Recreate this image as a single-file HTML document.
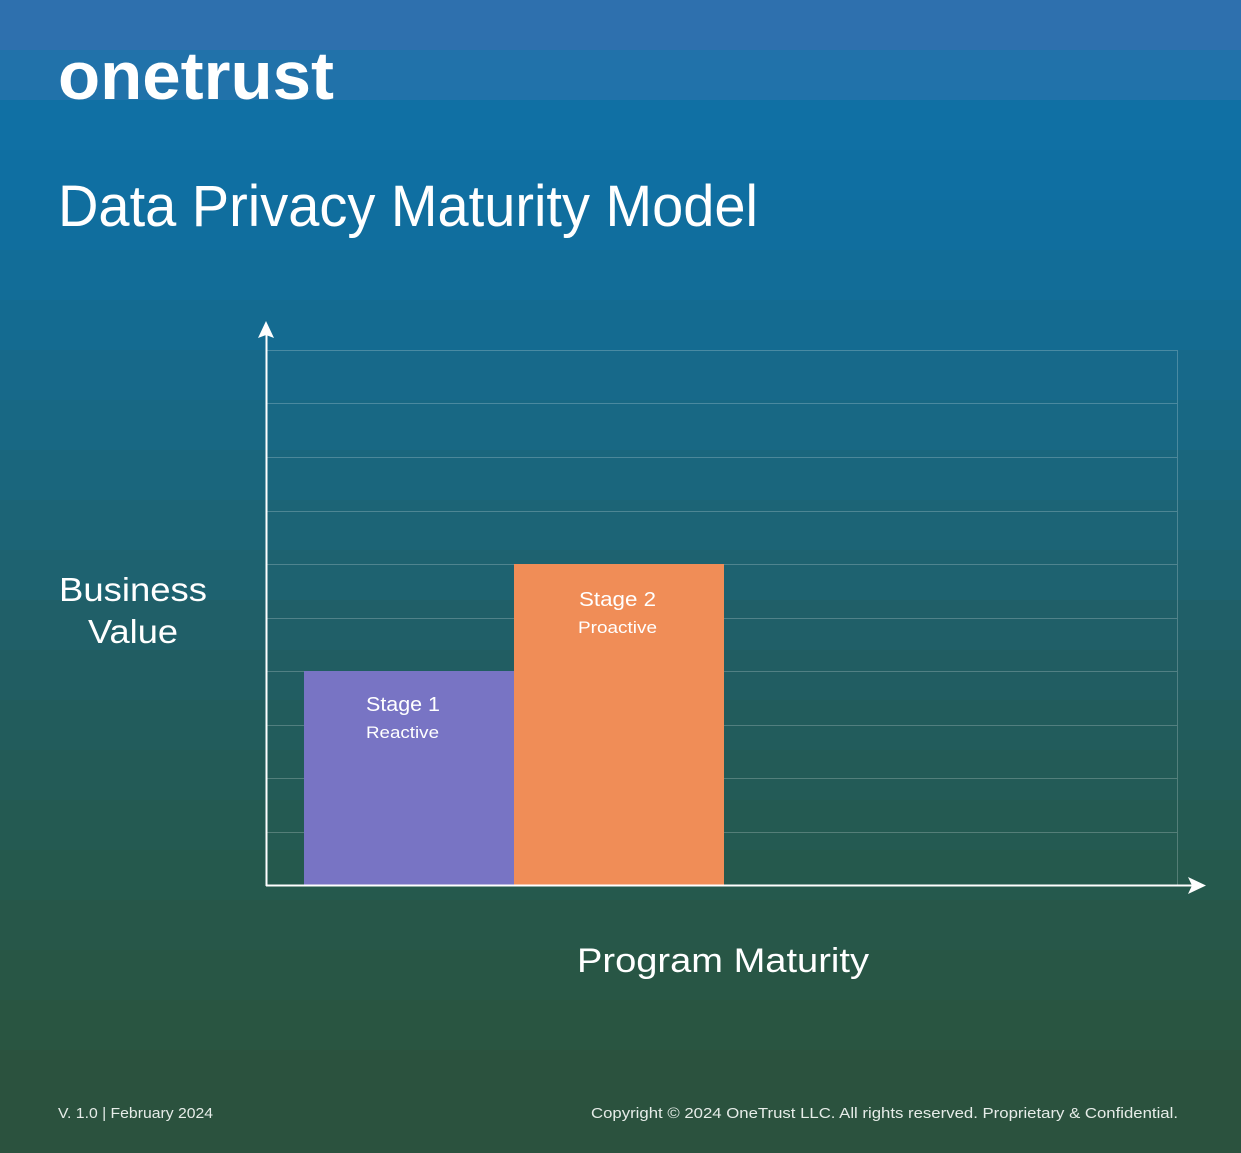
<!DOCTYPE html>
<html><head><meta charset="utf-8"><style>html,body{margin:0;padding:0;overflow:hidden}svg{display:block}</style></head>
<body>
<svg width="1241" height="1153" viewBox="0 0 1241 1153" xmlns="http://www.w3.org/2000/svg" font-family="Liberation Sans, sans-serif">
<g>
<rect x="0" y="0" width="1241" height="50" fill="#2e70ae"/>
<rect x="0" y="50" width="1241" height="50" fill="#2172aa"/>
<rect x="0" y="100" width="1241" height="50" fill="#1070a4"/>
<rect x="0" y="150" width="1241" height="50" fill="#0f6fa2"/>
<rect x="0" y="200" width="1241" height="50" fill="#106e9e"/>
<rect x="0" y="250" width="1241" height="50" fill="#126d98"/>
<rect x="0" y="300" width="1241" height="50" fill="#146b91"/>
<rect x="0" y="350" width="1241" height="50" fill="#17698a"/>
<rect x="0" y="400" width="1241" height="50" fill="#186884"/>
<rect x="0" y="450" width="1241" height="50" fill="#1a667d"/>
<rect x="0" y="500" width="1241" height="50" fill="#1c6476"/>
<rect x="0" y="550" width="1241" height="50" fill="#1e6270"/>
<rect x="0" y="600" width="1241" height="50" fill="#205f68"/>
<rect x="0" y="650" width="1241" height="50" fill="#215d62"/>
<rect x="0" y="700" width="1241" height="50" fill="#225c5c"/>
<rect x="0" y="750" width="1241" height="50" fill="#235b57"/>
<rect x="0" y="800" width="1241" height="50" fill="#245a52"/>
<rect x="0" y="850" width="1241" height="50" fill="#25594d"/>
<rect x="0" y="900" width="1241" height="50" fill="#275749"/>
<rect x="0" y="950" width="1241" height="50" fill="#285645"/>
<rect x="0" y="1000" width="1241" height="50" fill="#295541"/>
<rect x="0" y="1050" width="1241" height="103" fill="#2b523e"/>
</g>
<text x="58" y="99" font-size="68" font-weight="bold" fill="#fff" textLength="276" lengthAdjust="spacingAndGlyphs">onetrust</text>
<text x="58" y="226" font-size="58" fill="#fff" textLength="700" lengthAdjust="spacingAndGlyphs">Data Privacy Maturity Model</text>
<g stroke="#ffffff" stroke-opacity="0.22" stroke-width="1">
<line x1="266" y1="350.5" x2="1177" y2="350.5"/>
<line x1="266" y1="403.5" x2="1177" y2="403.5"/>
<line x1="266" y1="457.5" x2="1177" y2="457.5"/>
<line x1="266" y1="511.5" x2="1177" y2="511.5"/>
<line x1="266" y1="564.5" x2="1177" y2="564.5"/>
<line x1="266" y1="618.5" x2="1177" y2="618.5"/>
<line x1="266" y1="671.5" x2="1177" y2="671.5"/>
<line x1="266" y1="725.5" x2="1177" y2="725.5"/>
<line x1="266" y1="778.5" x2="1177" y2="778.5"/>
<line x1="266" y1="832.5" x2="1177" y2="832.5"/>
<line x1="1177.5" y1="350" x2="1177.5" y2="885"/>
</g>
<rect x="304" y="671" width="210" height="214" fill="#7874c4"/>
<rect x="514" y="564" width="210" height="321" fill="#f08d57"/>
<line x1="266.5" y1="334" x2="266.5" y2="886" stroke="#fff" stroke-width="2"/>
<polygon points="266,321 258,338 266,335 274,338" fill="#fff"/>
<line x1="266" y1="885.5" x2="1192" y2="885.5" stroke="#fff" stroke-width="2"/>
<polygon points="1206,885.5 1188,877 1192,885.5 1188,894" fill="#fff"/>
<text x="366" y="711" font-size="20" fill="#fff" textLength="74" lengthAdjust="spacingAndGlyphs">Stage 1</text>
<text x="366" y="738" font-size="17" fill="#fff" textLength="73" lengthAdjust="spacingAndGlyphs">Reactive</text>
<text x="579" y="606" font-size="20" fill="#fff" textLength="77" lengthAdjust="spacingAndGlyphs">Stage 2</text>
<text x="578" y="633" font-size="17" fill="#fff" textLength="79" lengthAdjust="spacingAndGlyphs">Proactive</text>
<text x="133" y="601" font-size="33" fill="#fff" text-anchor="middle" textLength="148" lengthAdjust="spacingAndGlyphs">Business</text>
<text x="133" y="643" font-size="33" fill="#fff" text-anchor="middle" textLength="90" lengthAdjust="spacingAndGlyphs">Value</text>
<text x="577" y="972" font-size="34" fill="#fff" textLength="292" lengthAdjust="spacingAndGlyphs">Program Maturity</text>
<text x="58" y="1118" font-size="15" fill="#e6ece8" textLength="155" lengthAdjust="spacingAndGlyphs">V. 1.0 | February 2024</text>
<text x="591" y="1118" font-size="15" fill="#e6ece8" textLength="587" lengthAdjust="spacingAndGlyphs">Copyright © 2024 OneTrust LLC. All rights reserved. Proprietary &amp; Confidential.</text>
</svg>
</body></html>
